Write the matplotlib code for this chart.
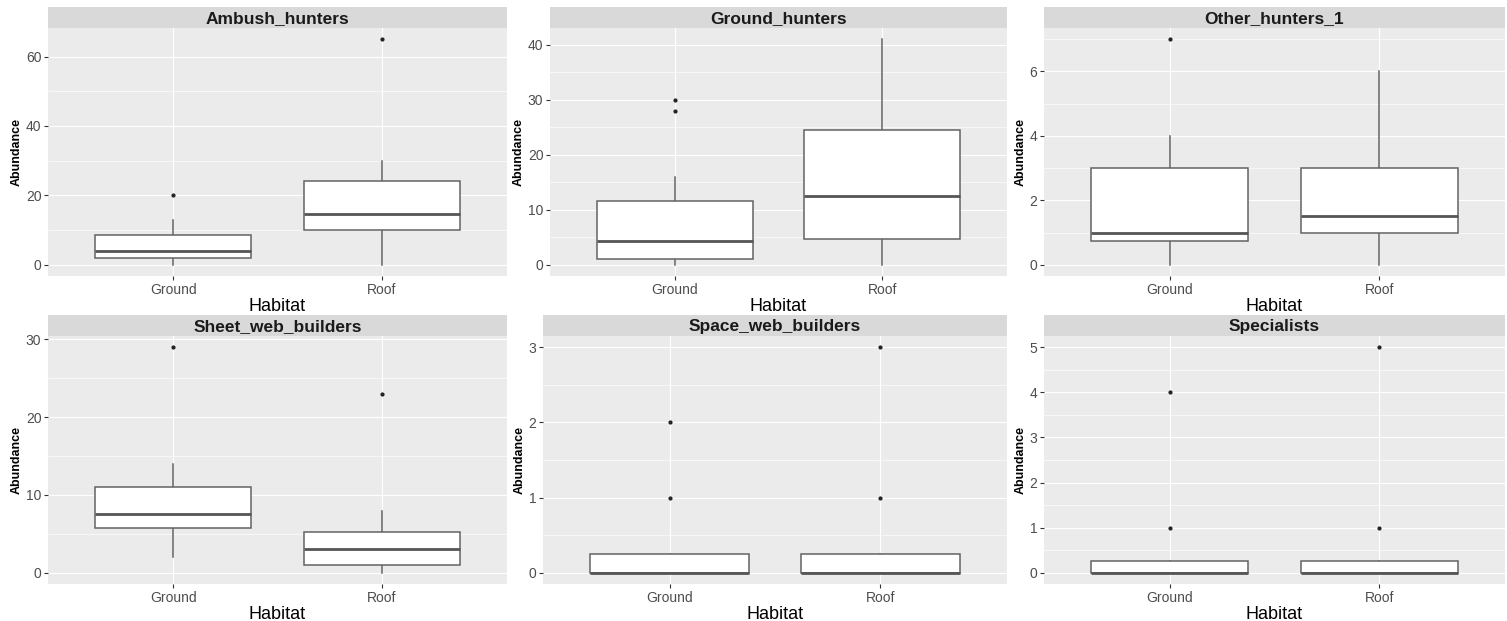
import numpy as np
import matplotlib.pyplot as plt
from matplotlib.ticker import MultipleLocator

plt.rcParams['font.family'] = ['Liberation Sans', 'DejaVu Sans']

habitats = ['Ground', 'Roof']
guilds = ['Ambush_hunters', 'Ground_hunters', 'Other_hunters_1',
          'Sheet_web_builders', 'Space_web_builders', 'Specialists']

# box summaries per guild, each pair is [Ground, Roof]
whisker_lo = [[0, 0], [0, 0], [0, 0], [2, 0], [0, 0], [0, 0]]
q1 = [[2, 10], [1, 4.75], [0.75, 1], [5.75, 1], [0, 0], [0, 0]]
median = [[4, 14.75], [4.25, 12.5], [1, 1.5], [7.5, 3], [0, 0], [0, 0]]
q3 = [[8.5, 24.25], [11.5, 24.5], [3, 3], [11, 5.25], [0.25, 0.25], [0.25, 0.25]]
whisker_hi = [[13, 30], [16, 41], [4, 6], [14, 8], [0, 0], [0, 0]]
outliers = [[[20], [65]], [[28, 30], []], [[7], []], [[29], [23]],
            [[1, 2], [1, 3]], [[1, 4], [1, 5]]]
tick_step = [20, 10, 2, 10, 1, 1]

# panel rectangles in pixels: left, right, top of plot, bottom of plot
W, H = 1507, 621
panels = [(48, 507, 28, 276), (550, 1007, 28, 276), (1044, 1505, 28, 276),
          (48, 507, 336, 584), (543, 1007, 336, 584), (1044, 1505, 336, 584)]
strip_h = 21

fig = plt.figure(figsize=(W / 100, H / 100), dpi=100)

for i, name in enumerate(guilds):
    l, r, t, b = panels[i]
    ax = fig.add_axes([l / W, 1 - b / H, (r - l) / W, (b - t) / H])
    ax.set_facecolor('#EBEBEB')
    for s in ax.spines.values():
        s.set_visible(False)

    stats = []
    for j, hab in enumerate(habitats):
        stats.append(dict(label=hab, whislo=whisker_lo[i][j], q1=q1[i][j],
                          med=median[i][j], q3=q3[i][j],
                          whishi=whisker_hi[i][j], fliers=outliers[i][j]))
    ax.bxp(stats, positions=[1, 2], widths=0.75, patch_artist=True,
           showcaps=False,
           boxprops=dict(facecolor='white', edgecolor='#636363', linewidth=1.1, zorder=2),
           whiskerprops=dict(color='#636363', linewidth=1.1, zorder=1.5),
           medianprops=dict(color='#555555', linewidth=2.0, zorder=2.5),
           flierprops=dict(marker='o', markersize=2.0, markerfacecolor='#222222',
                           markeredgecolor='#222222', linestyle='none', zorder=3))

    # y range padded like ggplot (5 % of the data span)
    all_vals = [whisker_lo[i][0], whisker_lo[i][1], q3[i][0], q3[i][1],
                whisker_hi[i][0], whisker_hi[i][1]]
    for o in outliers[i]:
        all_vals += o
    lo, hi = min(all_vals), max(all_vals)
    pad = (hi - lo) * 0.05
    ax.set_ylim(lo - pad, hi + pad)
    ax.set_xlim(0.4, 2.6)

    step = tick_step[i]
    ax.yaxis.set_major_locator(MultipleLocator(step))
    ax.yaxis.set_minor_locator(MultipleLocator(step / 2))
    ax.set_axisbelow(True)
    ax.grid(which='major', color='white', linewidth=0.85)
    ax.grid(which='minor', axis='y', color='white', linewidth=0.45)
    ax.tick_params(which='minor', length=0)
    ax.tick_params(which='major', length=2.75, width=0.8, color='#333333',
                   labelcolor='#4D4D4D', labelsize=10, pad=2)
    ax.set_xticks([1, 2])
    ax.set_xticklabels(habitats)

    ax.set_ylabel('Abundance', fontsize=9, fontweight='bold', labelpad=2)
    ax.set_xlabel('Habitat', fontsize=13, labelpad=1)

    # facet strip above the panel
    sax = fig.add_axes([l / W, 1 - t / H, (r - l) / W, strip_h / H])
    sax.set_facecolor('#D9D9D9')
    sax.set_xticks([])
    sax.set_yticks([])
    for s in sax.spines.values():
        s.set_visible(False)
    sax.text(0.5, 0.45, name, ha='center', va='center', fontsize=12.5,
             fontweight='bold', color='#1A1A1A', transform=sax.transAxes)

fig.savefig('out.png', dpi=100, facecolor='white')
